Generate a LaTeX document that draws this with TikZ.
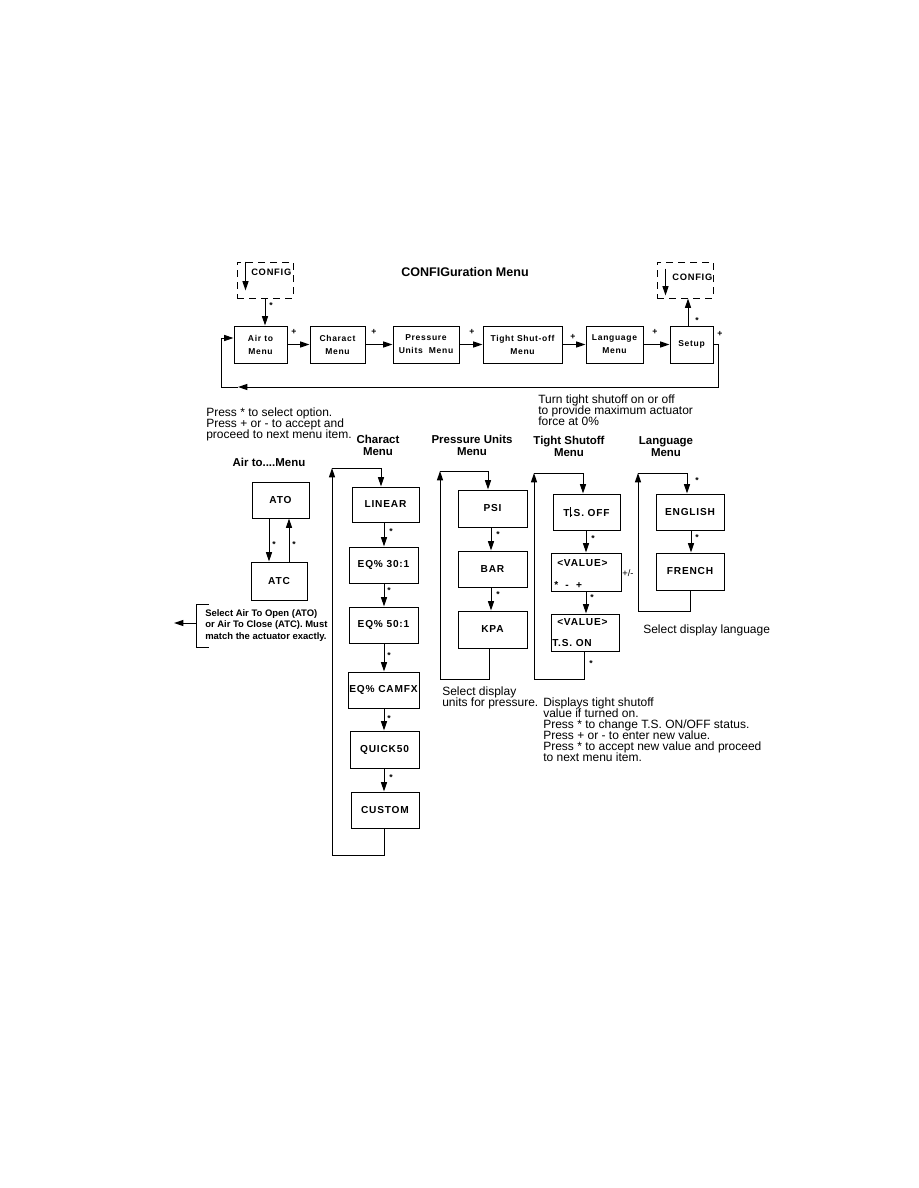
\documentclass[tikz,border=0pt]{standalone}
\usepackage{fontspec}
\setmainfont{Liberation Sans}
\newfontfamily\bxf[LetterSpace=8]{Liberation Sans}
\usetikzlibrary{arrows.meta,fit}
\tikzset{
  bx/.style={draw, line width=0.75pt, inner sep=0pt},
  dbx/.style={draw, line width=0.75pt, dash pattern=on 5pt off 4pt, inner sep=0pt},
  btxt/.style={inner sep=0pt, align=center, font=\bxf\bfseries\fontsize{7.6}{9}\selectfont},
  ttxt/.style={inner sep=0pt, align=center, font=\bxf\bfseries\fontsize{6.4}{9.7}\selectfont},
  cfgtxt/.style={inner sep=0pt, font=\bxf\bfseries\fontsize{7}{9}\selectfont},
  arr/.style={-{Triangle[length=7pt,width=4.5pt]}, line width=0.75pt},
  ln/.style={line width=0.75pt},
  lbl/.style={inner sep=0pt, font=\bfseries\fontsize{6.5}{6.5}\selectfont},
  desc/.style={inner sep=0pt, align=left, anchor=north west,
    font=\fontsize{9}{8.2}\selectfont},
  hdr/.style={inner sep=0pt, align=center, anchor=north,
    font=\bfseries\fontsize{8.6}{9}\selectfont},
  note/.style={inner sep=0pt, align=left, anchor=north west,
    font=\bfseries\fontsize{7.1}{8.6}\selectfont}
}
\begin{document}
\begin{tikzpicture}[x=0.75pt,y=-0.75pt]
\setlength{\lineskiplimit}{-20pt}
\useasboundingbox (0,0) rectangle (918,1188);

% ---------- top row ----------
\node[font=\bfseries\fontsize{9.4}{10}\selectfont, inner sep=0pt] (title) at (465,272) {CONFIGuration Menu};

\node[dbx, fit={(237,262)(293,298)}] (cfgL) {};
\node[cfgtxt, anchor=west] (cfgLt) at (251,272) {CONFIG};
\draw[arr] (cfgL.north west) ++(9,0) -- ++(0,29);

\node[dbx, fit={(657,262)(713,298)}] (cfgR) {};
\node[cfgtxt, anchor=west] (cfgRt) at (672,277) {CONFIG};
\draw[arr] (cfgR.north west) ++(9,7) -- ++(0,27);

\node[bx, fit={(234,326)(287,363)}] (air) {};
\node[ttxt] (airT) at (air.center) {Air to\\Menu};
\node[bx, fit={(310,326)(365,363)}] (char) {};
\node[ttxt] (charT) at (char.center) {Charact\\Menu};
\node[bx, fit={(393,326)(459,363)}] (pres) {};
\node[ttxt] (presT) at (pres.center) {Pressure\\Units~~Menu};
\node[bx, fit={(483,326)(562,363)}] (tight) {};
\node[ttxt] (tightT) at (tight.center) {Tight Shut-off\\Menu};
\node[bx, fit={(586,326)(643,363)}] (lang) {};
\node[ttxt] (langT) at (lang.center) {Language\\Menu};
\node[bx, fit={(670,326)(713,363)}] (setup) {};
\node[ttxt] (setupT) at (setup.center) {Setup};

\draw[arr] (cfgL.south) -- (cfgL.south |- air.north);
\node[lbl] (s0) at (271,306) {*};
\draw[arr] (air.east) -- (char.west);
\draw[arr] (char.east) -- (pres.west);
\draw[arr] (pres.east) -- (tight.west);
\draw[arr] (tight.east) -- (lang.west);
\draw[arr] (lang.east) -- (setup.west);
\node[lbl] (p1) at (294,332) {+};
\node[lbl] (p2) at (374,332) {+};
\node[lbl] (p3) at (472,332) {+};
\node[lbl] (p4) at (573,337) {+};
\node[lbl] (p5) at (655,332) {+};
\node[lbl] (p6) at (720,334) {+};

\draw[arr] (setup.north -| 688,0) -- (cfgR.south -| 688,0);
\node[lbl] (s00) at (697,321) {*};

\coordinate (fbR) at (718,387);
\coordinate (fbA) at (238,387);
\coordinate (fbL) at (221,387);
\coordinate (y338) at (0,338);
\draw[arr] (setup.east) -| (fbR) -- (fbA);
\draw[arr] (fbA) -- (fbL) |- (air.west |- y338);

% ---------- texts ----------
\node[desc] (press) at (206,408) {Press * to select option.\\Press + or - to accept and\\proceed to next menu item.};
\node[desc] (turn) at (538,395) {Turn tight shutoff on or off\\to provide maximum actuator\\force at 0\%};

\node[hdr] (hAir) at (269,458) {Air to....Menu};
\node[hdr] (hChar) at (378,435) {Charact\\Menu};
\node[hdr] (hPres) at (472,435) {Pressure Units\\Menu};
\node[hdr] (hTight) at (569,436) {Tight Shutoff\\Menu};
\node[hdr] (hLang) at (666,436) {Language\\Menu};

% ---------- Air to column ----------
\node[bx, fit={(252,482)(309,518)}] (ato) {};
\node[btxt] (atoT) at (ato.center) {ATO};
\node[bx, fit={(251,562)(307,600)}] (atc) {};
\node[btxt] (atcT) at (atc.center) {ATC};
\draw[arr] (ato.south -| 269,0) -- (atc.north -| 269,0);
\draw[arr] (atc.north -| 289,0) -- (ato.south -| 289,0);
\node[lbl] (sa1) at (274,545) {*};
\node[lbl] (sa2) at (294,545) {*};
\coordinate (nbT) at (209,604);
\coordinate (nbB) at (209,647);
\coordinate (nbA) at (196,623);
\coordinate (nbE) at (174,623);
\draw[ln] (nbT) -- (196,604) -- (196,647) -- (nbB);
\draw[arr] (nbA) -- (nbE);
\node[note] (noteAir) at (205,609) {Select Air To Open (ATO)\\or Air To Close (ATC). Must\\match the actuator exactly.};

% ---------- Charact column ----------
\node[bx, fit={(352,487)(419,522)}] (linear) {};
\node[btxt] (linearT) at (linear.center) {LINEAR};
\node[bx, fit={(349,547)(418,583)}] (eq30) {};
\node[btxt] (eq30T) at (eq30.center) {EQ\% 30:1};
\node[bx, fit={(349,607)(418,643)}] (eq50) {};
\node[btxt] (eq50T) at (eq50.center) {EQ\% 50:1};
\node[bx, fit={(348,672)(419,708)}] (camfx) {};
\node[btxt] (camfxT) at (camfx.center) {EQ\% CAMFX};
\node[bx, fit={(350,731)(419,768)}] (quick) {};
\node[btxt] (quickT) at (quick.center) {QUICK50};
\node[bx, fit={(351,792)(419,828)}] (custom) {};
\node[btxt] (customT) at (custom.center) {CUSTOM};
\draw[arr] (linear.south -| 384,0) -- (eq30.north -| 384,0);
\draw[arr] (eq30.south -| 384,0) -- (eq50.north -| 384,0);
\draw[arr] (eq50.south -| 384,0) -- (camfx.north -| 384,0);
\draw[arr] (camfx.south -| 384,0) -- (quick.north -| 384,0);
\draw[arr] (quick.south -| 384,0) -- (custom.north -| 384,0);
\node[lbl] (sc1) at (391,532) {*};
\node[lbl] (sc2) at (389,591) {*};
\node[lbl] (sc3) at (389,656) {*};
\node[lbl] (sc4) at (389,719) {*};
\node[lbl] (sc5) at (391,778) {*};
\coordinate (cL) at (332,468);
\draw[arr] (custom.south -| 384,0) -- ++(0,27) -| (cL);
\draw[arr] (cL) -| (linear.north -| 381,0);

% ---------- Pressure column ----------
\node[bx, fit={(458,490)(527,527)}] (psi) {};
\node[btxt] (psiT) at (psi.center) {PSI};
\node[bx, fit={(458,551)(527,587)}] (bar) {};
\node[btxt] (barT) at (bar.center) {BAR};
\node[bx, fit={(458,611)(527,648)}] (kpa) {};
\node[btxt] (kpaT) at (kpa.center) {KPA};
\draw[arr] (psi.south -| 491,0) -- (bar.north -| 491,0);
\draw[arr] (bar.south -| 491,0) -- (kpa.north -| 491,0);
\node[lbl] (sp1) at (498,535) {*};
\node[lbl] (sp2) at (498,595) {*};
\coordinate (pL) at (440,471);
\draw[arr] (kpa.south -| 489,0) -- ++(0,31) -| (pL);
\draw[arr] (pL) -| (psi.north -| 488,0);

% ---------- Tight shutoff column ----------
\node[bx, fit={(553,494)(620,530)}] (tsoff) {};
\node[btxt] (tsoffT) at (tsoff.center) {T\rule[-1pt]{0.4pt}{8pt}.S. OFF};
\node[bx, fit={(551,553)(621,591)}] (val) {};
\node[btxt, anchor=west] (valt) at (557,563) {<VALUE>};
\node[btxt, anchor=west] (valk) at (554,585) {*~~-~~+};
\node[bx, fit={(551,614)(619,651)}] (tson) {};
\node[btxt, anchor=west] (tsonv) at (557,622) {<VALUE>};
\node[btxt, anchor=west] (tsont) at (552,643) {T.S. ON};
\node[lbl, font=\fontsize{7}{7}\selectfont] (pm) at (628,573) {+/-};
\draw[arr] (tsoff.south -| 586,0) -- (val.north -| 586,0);
\draw[arr] (val.south -| 586,0) -- (tson.north -| 586,0);
\node[lbl] (st1) at (593,539) {*};
\node[lbl] (st2) at (592,598) {*};
\node[lbl] (st3) at (591,664) {*};
\coordinate (tL) at (534,473);
\draw[arr] (tson.south -| 584,0) -- ++(0,28) -| (tL);
\draw[arr] (tL) -| (tsoff.north -| 583,0);

% ---------- Language column ----------
\node[bx, fit={(656,494)(724,530)}] (english) {};
\node[btxt] (englishT) at (english.center) {ENGLISH};
\node[bx, fit={(656,553)(724,590)}] (french) {};
\node[btxt] (frenchT) at (french.center) {FRENCH};
\draw[arr] (english.south -| 691,0) -- (french.north -| 691,0);
\node[lbl] (sl1) at (697,538) {*};
\node[lbl] (sl0) at (697,481) {*};
\coordinate (lL) at (638,473);
\draw[arr] (french.south -| 690,0) -- ++(0,21) -| (lL);
\draw[arr] (lL) -| (english.north -| 687,0);

% ---------- bottom texts ----------
\node[desc] (selLang) at (643,625) {Select display language};
\node[desc] (selUnits) at (442,687) {Select display\\units for pressure.};
\node[desc] (dispTS) at (543,698) {Displays tight shutoff\\value if turned on.\\Press * to change T.S. ON/OFF status.\\Press + or - to enter new value.\\Press * to accept new value and proceed\\to next menu item.};
\end{tikzpicture}
\end{document}
